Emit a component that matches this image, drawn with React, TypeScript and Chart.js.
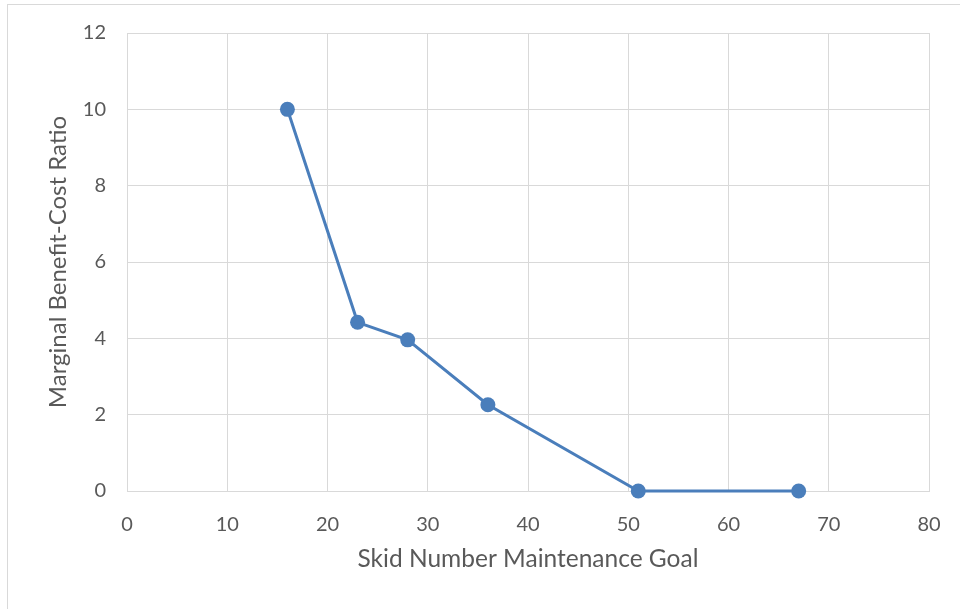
import React, { useEffect, useRef } from "react";
import { Chart, registerables } from "chart.js";

Chart.register(...registerables);

// Skid number goal vs. marginal benefit-cost ratio
const skidGoals = [16, 23, 28, 36, 51, 67];
const benefitCostRatios = [10, 4.42, 3.96, 2.26, 0, 0];

const xTicks = { min: 0, max: 80, step: 10 };
const yTicks = { min: 0, max: 12, step: 2 };

const xTitle = "Skid Number Maintenance Goal";
const yTitle = "Marginal Benefit-Cost Ratio";

const FONT = "Lato, 'Open Sans', sans-serif";
const GRID = "#d9d9d9";
const TEXT = "#595959";
const LINE = "#4a7ebb";

// Plot area edges inside the 960x609 canvas
const PLOT = { left: 127, right: 929, top: 33, bottom: 491 };

export default function App() {
  const canvasRef = useRef<HTMLCanvasElement | null>(null);

  useEffect(() => {
    if (!canvasRef.current) return;
    const chart = new Chart(canvasRef.current, {
      type: "scatter",
      data: {
        datasets: [
          {
            data: skidGoals.map((x, i) => ({ x, y: benefitCostRatios[i] })),
            showLine: true,
            borderColor: LINE,
            backgroundColor: LINE,
            borderWidth: 3,
            pointRadius: 7.5,
            pointBorderWidth: 0,
            tension: 0,
            clip: false,
          },
        ],
      },
      options: {
        responsive: false,
        animation: false,
        layout: { padding: { left: 40, top: PLOT.top, right: 960 - PLOT.right, bottom: 0 } },
        plugins: { legend: { display: false }, tooltip: { enabled: false } },
        scales: {
          x: {
            type: "linear",
            min: xTicks.min,
            max: xTicks.max,
            ticks: {
              stepSize: xTicks.step,
              color: TEXT,
              font: { family: FONT, size: 20 },
              padding: 22,
            },
            grid: { color: GRID, lineWidth: 1, drawTicks: false },
            border: { color: GRID, width: 1 },
            title: {
              display: true,
              text: xTitle,
              color: TEXT,
              font: { family: FONT, size: 24.5 },
              padding: { top: 8, bottom: 35 },
            },
            afterFit: (scale: any) => {
              scale.height = 609 - PLOT.bottom;
              scale.paddingLeft = 0;
              scale.paddingRight = 0;
            },
          },
          y: {
            type: "linear",
            min: yTicks.min,
            max: yTicks.max,
            ticks: {
              stepSize: yTicks.step,
              color: TEXT,
              font: { family: FONT, size: 20 },
              padding: 21,
            },
            grid: { color: GRID, lineWidth: 1, drawTicks: false },
            border: { color: GRID, width: 1 },
            title: {
              display: true,
              text: yTitle,
              color: TEXT,
              font: { family: FONT, size: 24 },
              padding: { top: 4, bottom: 0 },
            },
            afterFit: (scale: any) => {
              scale.width = PLOT.left - 40;
              scale.paddingTop = 0;
              scale.paddingBottom = 0;
            },
          },
        },
      },
    });
    return () => chart.destroy();
  }, []);

  return (
    <div style={{ position: "absolute", left: 0, top: 0, width: 960, height: 609, background: "#fff", overflow: "hidden" }}>
      <div
        style={{
          position: "absolute",
          left: 7,
          top: 4,
          width: 980,
          height: 640,
          border: "1px solid #d9d9d9",
        }}
      />
      <canvas ref={canvasRef} width={960} height={609} style={{ position: "absolute", left: 0, top: 0 }} />
    </div>
  );
}
